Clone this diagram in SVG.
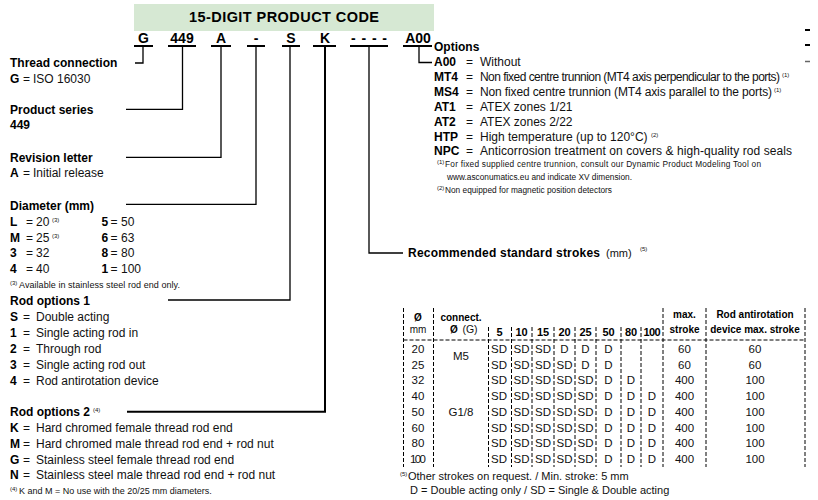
<svg xmlns="http://www.w3.org/2000/svg" width="818" height="500" viewBox="0 0 818 500">
<style>
text{font-family:"Liberation Sans",Arial,sans-serif;fill:#111}
.b{font-weight:bold;font-size:12px;fill:#000}
.r{font-size:12px}
.code{font-weight:bold;font-size:14px;fill:#000;text-anchor:middle}
.fn{font-size:9px}
.fo{font-size:8.3px}
.sup{font-size:6px}
.th{font-weight:bold;font-size:10px;fill:#000;text-anchor:middle}
.td{font-size:11.5px;text-anchor:middle}
.ln{stroke:#000;stroke-width:1.3;fill:none}
.ul{stroke:#000;stroke-width:2;fill:none}
.ds{stroke:#000;stroke-width:1;stroke-dasharray:4 2;fill:none}
</style>
<g id="header">
<rect x="134" y="4" width="300" height="27" fill="#d6e8d3"/>
<text x="284" y="22" class="b" style="font-size:14.5px" text-anchor="middle" textLength="190">15-DIGIT PRODUCT CODE</text>
</g>
<g id="code">
<text x="143.5" y="43" class="code">G</text>
<text x="182" y="43" class="code">449</text>
<text x="221" y="43" class="code">A</text>
<text x="256" y="43" class="code">-</text>
<text x="291" y="43" class="code">S</text>
<text x="325" y="43" class="code">K</text>
<text x="351" y="43" class="code" style="text-anchor:start" textLength="36">----</text>
<text x="418" y="43" class="code">A00</text>
<path class="ul" d="M134 46H153M168 46H196M211 46H231M247 46H265M282 46H300M313 46H336M350 46H388M403 46H432"/>
</g>
<g id="connectors">
<path class="ln" d="M143 46V63H135"/>
<path class="ln" d="M182.5 46V109.3H126"/>
<path class="ln" d="M221 46V157.3H126"/>
<path class="ln" d="M256 46V204.3H126"/>
<path class="ln" d="M290 46V300H168"/>
<path class="ln" style="stroke-width:2" d="M325 46V411.7H127"/>
<path class="ln" d="M369 46V253H403"/>
<path class="ln" d="M419 46V62.5H432"/>
<path stroke="#000" stroke-width="2" d="M805 30H810M805 45H810"/>
<path stroke="#666" stroke-width="1.5" d="M805 61.5H810"/>
</g>
<g id="thread">
<text x="10" y="67" class="b">Thread connection</text>
<text x="10" y="83" class="b">G</text><text x="23" y="83" class="r">=</text><text x="33" y="83" class="r">ISO 16030</text>
</g>
<g id="series">
<text x="10" y="114" class="b">Product series</text>
<text x="10" y="129" class="b">449</text>
</g>
<g id="revision">
<text x="10" y="162" class="b">Revision letter</text>
<text x="10" y="177" class="b">A</text><text x="23" y="177" class="r">=</text><text x="33" y="177" class="r">Initial release</text>
</g>
<g id="diameter">
<text x="10" y="210" class="b">Diameter (mm)</text>
<text x="10" y="226" class="b">L</text><text x="26" y="226" class="r">=</text><text x="36" y="226" class="r">20</text><text x="52" y="222" class="sup">(3)</text>
<text x="10" y="241.5" class="b">M</text><text x="26" y="241.5" class="r">=</text><text x="36" y="241.5" class="r">25</text><text x="52" y="237.5" class="sup">(3)</text>
<text x="10" y="257" class="b">3</text><text x="26" y="257" class="r">=</text><text x="36" y="257" class="r">32</text>
<text x="10" y="272.5" class="b">4</text><text x="26" y="272.5" class="r">=</text><text x="36" y="272.5" class="r">40</text>
<text x="101.5" y="226" class="b">5</text><text x="110.5" y="226" class="r">=</text><text x="121" y="226" class="r">50</text>
<text x="101.5" y="241.5" class="b">6</text><text x="110.5" y="241.5" class="r">=</text><text x="121" y="241.5" class="r">63</text>
<text x="101.5" y="257" class="b">8</text><text x="110.5" y="257" class="r">=</text><text x="121" y="257" class="r">80</text>
<text x="101.5" y="272.5" class="b">1</text><text x="110.5" y="272.5" class="r">=</text><text x="121" y="272.5" class="r">100</text>
<text x="10" y="285" class="sup">(3)</text><text x="19" y="288" class="fn" textLength="161">Available in stainless steel rod end only.</text>
</g>
<g id="rod1">
<text x="10" y="305" class="b">Rod options 1</text>
<text x="10" y="321" class="b">S</text><text x="23" y="321" class="r">=</text><text x="36" y="321" class="r">Double acting</text>
<text x="10" y="337" class="b">1</text><text x="23" y="337" class="r">=</text><text x="36" y="337" class="r">Single acting rod in</text>
<text x="10" y="352.5" class="b">2</text><text x="23" y="352.5" class="r">=</text><text x="36" y="352.5" class="r">Through rod</text>
<text x="10" y="368.5" class="b">3</text><text x="23" y="368.5" class="r">=</text><text x="36" y="368.5" class="r">Single acting rod out</text>
<text x="10" y="384.5" class="b">4</text><text x="23" y="384.5" class="r">=</text><text x="36" y="384.5" class="r">Rod antirotation device</text>
</g>
<g id="rod2">
<text x="10" y="416" class="b">Rod options 2</text><text x="93" y="412" class="sup">(4)</text>
<text x="10" y="432" class="b">K</text><text x="23" y="432" class="r">=</text><text x="36" y="432" class="r">Hard chromed female thread rod end</text>
<text x="10" y="447.5" class="b">M</text><text x="23" y="447.5" class="r">=</text><text x="36" y="447.5" class="r">Hard chromed male thread rod end + rod nut</text>
<text x="10" y="463.5" class="b">G</text><text x="23" y="463.5" class="r">=</text><text x="36" y="463.5" class="r">Stainless steel female thread rod end</text>
<text x="10" y="479" class="b">N</text><text x="23" y="479" class="r">=</text><text x="36" y="479" class="r">Stainless steel male thread rod end + rod nut</text>
<text x="10" y="491" class="sup">(4)</text><text x="19" y="494" class="fn">K and M =  No use with the 20/25 mm diameters.</text>
</g>
<g id="options">
<text x="434" y="51" class="b">Options</text>
<text x="434" y="66" class="b">A00</text><text x="466" y="66" class="r">=</text><text x="480" y="66" class="r">Without</text>
<text x="434" y="81" class="b">MT4</text><text x="466" y="81" class="r">=</text><text x="480" y="81" class="r" textLength="300">Non fixed centre trunnion (MT4 axis perpendicular to the ports)</text><text x="782" y="77" class="sup">(1)</text>
<text x="434" y="96" class="b">MS4</text><text x="466" y="96" class="r">=</text><text x="480" y="96" class="r" textLength="292">Non fixed centre trunnion (MT4 axis parallel to the ports)</text><text x="774" y="92" class="sup">(1)</text>
<text x="434" y="111" class="b">AT1</text><text x="466" y="111" class="r">=</text><text x="480" y="111" class="r">ATEX zones 1/21</text>
<text x="434" y="126" class="b">AT2</text><text x="466" y="126" class="r">=</text><text x="480" y="126" class="r">ATEX zones 2/22</text>
<text x="434" y="140.5" class="b">HTP</text><text x="466" y="140.5" class="r">=</text><text x="480" y="140.5" class="r">High temperature (up to 120°C)</text><text x="651" y="136.5" class="sup">(2)</text>
<text x="434" y="155" class="b">NPC</text><text x="466" y="155" class="r">=</text><text x="480" y="155" class="r" textLength="312">Anticorrosion treatment on covers &amp; high-quality rod seals</text>
<text x="437" y="164" class="sup">(1)</text><text x="445" y="167" class="fo" textLength="316">For fixed supplied centre trunnion, consult our Dynamic Product Modeling Tool on</text>
<text x="447" y="180" class="fo">www.asconumatics.eu and indicate XV dimension.</text>
<text x="437" y="190" class="sup">(2)</text><text x="445" y="193" class="fo">Non equipped for magnetic position detectors</text>
</g>
<g id="strokes">
<text x="408" y="257" class="b" textLength="192">Recommended standard strokes</text><text x="606" y="257" class="r" style="font-size:11px">(mm)</text><text x="640" y="251" class="sup">(5)</text>
</g>
<g id="table">
<path class="ds" d="M403.5 308V467M433.5 308V467M663 308V467M706 308V467M805 308V467M488.5 327V467M511.5 327V467M532 327V467M554 327V467M575 327V467M596 327V467M621 327V467M641 327V467M403.5 340H805"/>
<text x="418" y="320.5" class="th">Ø</text><text x="418" y="333" class="td" style="font-size:10px">mm</text>
<text x="461" y="320.5" class="th">connect.</text>
<text x="454" y="333" class="th">Ø</text><text x="470" y="333" class="td" style="font-size:10.5px">(G)</text>
<text x="499.5" y="336" class="th" style="font-size:11px">5</text>
<text x="521.5" y="336" class="th" style="font-size:11px">10</text>
<text x="543" y="336" class="th" style="font-size:11px">15</text>
<text x="564.5" y="336" class="th" style="font-size:11px">20</text>
<text x="585.5" y="336" class="th" style="font-size:11px">25</text>
<text x="608.5" y="336" class="th" style="font-size:11px">50</text>
<text x="631" y="336" class="th" style="font-size:11px">80</text>
<text x="652" y="336" class="th" style="font-size:11px" textLength="17">100</text>
<text x="684.5" y="318" class="th">max.</text><text x="684.5" y="333" class="th">stroke</text>
<text x="755" y="318" class="th">Rod antirotation</text><text x="755" y="333" class="th">device max. stroke</text>
<g class="rows">
<text x="418" y="353" class="td">20</text><text x="418" y="368.7" class="td">25</text><text x="418" y="384.4" class="td">32</text><text x="418" y="400" class="td">40</text>
<text x="418" y="415.8" class="td">50</text><text x="418" y="431.5" class="td">60</text><text x="418" y="447.2" class="td">80</text><text x="418" y="463" class="td" textLength="16">100</text>
<text x="461" y="360" class="td">M5</text><text x="461" y="415.8" class="td">G1/8</text>
</g>
<g class="cells">
<text y="353" class="td"><tspan x="499">SD</tspan><tspan x="521.5">SD</tspan><tspan x="543">SD</tspan><tspan x="564.5">D</tspan><tspan x="585.5">D</tspan><tspan x="608.5">D</tspan><tspan x="684.5">60</tspan><tspan x="755">60</tspan></text>
<text y="368.7" class="td"><tspan x="499">SD</tspan><tspan x="521.5">SD</tspan><tspan x="543">SD</tspan><tspan x="564.5">SD</tspan><tspan x="585.5">D</tspan><tspan x="608.5">D</tspan><tspan x="684.5">60</tspan><tspan x="755">60</tspan></text>
<text y="384.4" class="td"><tspan x="499">SD</tspan><tspan x="521.5">SD</tspan><tspan x="543">SD</tspan><tspan x="564.5">SD</tspan><tspan x="585.5">SD</tspan><tspan x="608.5">D</tspan><tspan x="631">D</tspan><tspan x="684.5">400</tspan><tspan x="755">100</tspan></text>
<text y="400" class="td"><tspan x="499">SD</tspan><tspan x="521.5">SD</tspan><tspan x="543">SD</tspan><tspan x="564.5">SD</tspan><tspan x="585.5">SD</tspan><tspan x="608.5">D</tspan><tspan x="631">D</tspan><tspan x="652">D</tspan><tspan x="684.5">400</tspan><tspan x="755">100</tspan></text>
<text y="415.8" class="td"><tspan x="499">SD</tspan><tspan x="521.5">SD</tspan><tspan x="543">SD</tspan><tspan x="564.5">SD</tspan><tspan x="585.5">SD</tspan><tspan x="608.5">D</tspan><tspan x="631">D</tspan><tspan x="652">D</tspan><tspan x="684.5">400</tspan><tspan x="755">100</tspan></text>
<text y="431.5" class="td"><tspan x="499">SD</tspan><tspan x="521.5">SD</tspan><tspan x="543">SD</tspan><tspan x="564.5">SD</tspan><tspan x="585.5">SD</tspan><tspan x="608.5">D</tspan><tspan x="631">D</tspan><tspan x="652">D</tspan><tspan x="684.5">400</tspan><tspan x="755">100</tspan></text>
<text y="447.2" class="td"><tspan x="499">SD</tspan><tspan x="521.5">SD</tspan><tspan x="543">SD</tspan><tspan x="564.5">SD</tspan><tspan x="585.5">SD</tspan><tspan x="608.5">D</tspan><tspan x="631">D</tspan><tspan x="652">D</tspan><tspan x="684.5">400</tspan><tspan x="755">100</tspan></text>
<text y="463" class="td"><tspan x="499">SD</tspan><tspan x="521.5">SD</tspan><tspan x="543">SD</tspan><tspan x="564.5">SD</tspan><tspan x="585.5">SD</tspan><tspan x="608.5">D</tspan><tspan x="631">D</tspan><tspan x="652">D</tspan><tspan x="684.5">400</tspan><tspan x="755">100</tspan></text>
</g>
<text x="400" y="476" class="sup">(5)</text><text x="408" y="480" class="r" style="font-size:11px">Other strokes on request. / Min. stroke: 5 mm</text>
<text x="410" y="493.5" class="r" style="font-size:11px">D = Double acting only / SD = Single &amp; Double acting</text>
</g>
</svg>
